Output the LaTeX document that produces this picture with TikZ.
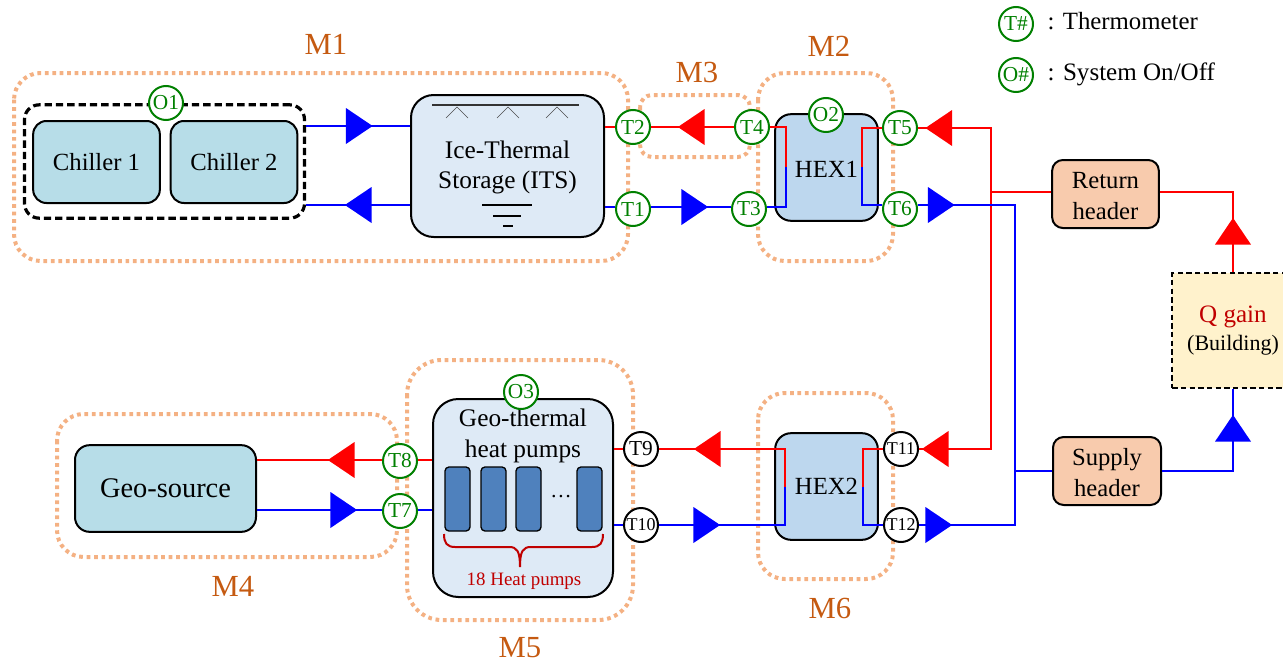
\documentclass[tikz,border=0pt]{standalone}
\usepackage{fontspec}
\setmainfont{Liberation Serif}
\usetikzlibrary{shapes.geometric, positioning, calc}
\definecolor{chillfill}{HTML}{B7DDE8}
\definecolor{itsfill}{HTML}{DEEAF6}
\definecolor{hexfill}{HTML}{BDD7EE}
\definecolor{headfill}{HTML}{F8CBAD}
\definecolor{hpfill}{HTML}{4F81BD}
\definecolor{qfill}{HTML}{FFF2CC}
\definecolor{modline}{HTML}{F4B183}
\definecolor{modtext}{HTML}{C55A11}
\definecolor{sensgreen}{HTML}{008000}
\definecolor{darkred}{HTML}{C00000}
\newcommand{\topgap}{\rule{0pt}{15.5pt}}

\begin{document}
\begin{tikzpicture}[x=0.75pt, y=-0.75pt,
                box/.style={draw, line width=1.5pt, inner sep=0pt, align=center, font=\fontsize{18.5}{22}\selectfont},
                module/.style={draw=modline, line width=3pt, dash pattern=on 2.8pt off 2.8pt, rounded corners=20pt},
                modlabel/.style={text=modtext, font=\fontsize{23}{26}\selectfont},
                thermo/.style={circle, draw=sensgreen, fill=white, line width=1.5pt, minimum size=25.5pt, inner sep=0pt, text=sensgreen, font=\fontsize{16}{18}\selectfont},
                plainsens/.style={thermo, draw=black, text=black},
                redpipe/.style={draw=red, line width=1.7pt},
                bluepipe/.style={draw=blue, line width=1.7pt},
                flowtip/.style={isosceles triangle, isosceles triangle apex angle=68, isosceles triangle stretches, minimum width=27pt, minimum height=20pt, inner sep=0pt},
                pump/.style={draw, line width=1pt, fill=hpfill, rounded corners=3pt, minimum width=18.75pt, minimum height=48pt, inner sep=0pt}]
    \useasboundingbox (0,0) rectangle (1283,664);

    % measurement groups
    \draw[module] (14,73) rectangle (628,261);
    \draw[module, rounded corners=9pt] (640,95) rectangle (750,157);
    \draw[module] (758,73) rectangle (893,261);
    \draw[module] (57,414) rectangle (397,557);
    \draw[module, rounded corners=26pt] (407,360) rectangle (633,620);
    \draw[module] (758,393) rectangle (893,579);
    \node[modlabel] (m1) at (326,44) {M1};
    \node[modlabel] (m2) at (829,46) {M2};
    \node[modlabel] (m3) at (697,72) {M3};
    \node[modlabel] (m4) at (233,586) {M4};
    \node[modlabel] (m5) at (520,648) {M5};
    \node[modlabel] (m6) at (830,608) {M6};

    % equipment
    \node[box, dash pattern=on 5.5pt off 3pt, line width=2.4pt, rounded corners=11pt, minimum width=210pt, minimum height=85pt] (chillgrp) at (164.5,161.5) {};
    \node[box, fill=chillfill, rounded corners=10pt, minimum width=95pt, minimum height=61.5pt] (ch1) at (96.5,162) {Chiller 1};
    \node[box, fill=chillfill, rounded corners=10pt, minimum width=95pt, minimum height=61.5pt] (ch2) at (234,162) {Chiller 2};
    \node[box, fill=itsfill, rounded corners=17pt, minimum width=144.75pt, minimum height=106.5pt, font=\fontsize{19}{22}\selectfont] (its) at (507.5,166) {\topgap Ice-Thermal\\[0.5pt]Storage (ITS)};
    \node[box, fill=hexfill, rounded corners=12pt, minimum width=77pt, minimum height=80pt] (hex1) at (826.5,167.5) {\topgap HEX1};
    \node[box, fill=hexfill, rounded corners=12pt, minimum width=77pt, minimum height=80pt] (hex2) at (826.5,486.5) {HEX2};
    \node[box, fill=chillfill, rounded corners=11pt, minimum width=135.75pt, minimum height=65pt, font=\fontsize{21.3}{24}\selectfont] (geo) at (165.5,488.5) {Geo-source};
    \node[box, fill=itsfill, rounded corners=19pt, minimum width=135pt, minimum height=148.5pt] (ghp) at (523,498) {};
    \node[font=\fontsize{19}{22}\selectfont, align=center] (ghptext) at (523,436) {Geo-thermal\\[1pt]heat pumps};
    \node[box, fill=headfill, rounded corners=8pt, minimum width=80pt, minimum height=51pt] (ret) at (1105.5,194) {\topgap Return\\[1pt]header};
    \node[box, fill=headfill, rounded corners=8pt, minimum width=81pt, minimum height=51pt] (sup) at (1107,471) {\topgap Supply\\[1pt]header};
    \node[box, dash pattern=on 4pt off 2.5pt, fill=qfill, minimum width=91pt, minimum height=86pt] (qgain) at (1233,330.5) {{\color{darkred}\fontsize{18.8}{22}\selectfont Q gain}\\[-1.5pt]\fontsize{16.5}{18}\selectfont (Building)};

    % heat pump bank
    \foreach \nm/\x in {hpa/457.5, hpb/493.5, hpc/528.5, hpd/589.5}
        \node[pump] (\nm) at (\x,499) {};
    \node[font=\fontsize{16}{18}\selectfont] (hpdots) at (561,497) {\dots};
    \draw[darkred, line width=1.5pt] (444,534) .. controls (444,543) and (447,547) .. (455,547) -- (509,547) .. controls (517,547) and (520,551) .. (520,567) .. controls (520,551) and (523,547) .. (531,547) -- (592,547) .. controls (600,547) and (603,543) .. (603,534);
    \node[text=darkred, font=\fontsize{14.2}{16}\selectfont] (hpnote) at (524,581) {18 Heat pumps};

    % ice tank marks
    \coordinate (wla) at (432,105);
    \coordinate (wlb) at (579,105);
    \draw[line width=1.2pt, black!80] (wla) -- (wlb);
    \foreach \x in {457, 508, 557}
        \draw[black!70, line width=0.5pt] (\x-11,118) -- (\x,107) -- (\x+11,118);
    \foreach \x/\w/\y in {507/25/205, 507/14/216, 508/5/226}
        \draw[line width=0.8pt] (\x-\w,\y) -- (\x+\w,\y);

    % sensors
    \foreach \nm/\lbl/\x/\y in {o1/O1/166/103, o2/O2/826/115, o3/O3/521/392, t1/T1/633/209, t2/T2/633/127, t3/T3/749/209, t4/T4/752/127, t5/T5/900/128, t6/T6/900/209, t7/T7/400/511, t8/T8/400/461, legt/T\#/1016/24, lego/O\#/1016/75}
        \node[thermo] (\nm) at (\x,\y) {\lbl};
    \node[plainsens] (t9) at (641,449) {T9};
    \node[plainsens, font=\fontsize{13.5}{14}\selectfont] (t10) at (641,525) {T10};
    \node[plainsens, font=\fontsize{13.5}{14}\selectfont] (t11) at (901,449) {T11};
    \node[plainsens, font=\fontsize{13.5}{14}\selectfont] (t12) at (901,525) {T12};
    \node[font=\fontsize{18.6}{20}\selectfont, anchor=west] (legtxt) at (1043,21) {: Thermometer};
    \node[font=\fontsize{18.8}{20}\selectfont, anchor=west] (legtxo) at (1043,74) {: System On/Off};

    % flow direction tips
    \foreach \nm/\col/\x/\y/\ang in {fa/blue/355.5/126/0, fb/blue/362/205/180, fc/red/695/127/180, fd/blue/691/207/0, fe/red/942.5/128/180, ff/blue/937.5/205/0, fg/red/1233/235/90, fh/blue/1233/432/90, fi/red/345/460/180, fj/blue/340/510/0, fk/red/711/449/180, fl/blue/703/525/0, fm/red/939/449/180, fn/blue/935/525/0}
        \node[flowtip, fill=\col, shape border rotate=\ang] (\nm) at (\x,\y) {};

    % pipe corners
    \coordinate (hxaltop) at (786,127);
    \coordinate (hxalmid) at (786,167);
    \coordinate (hxalbot) at (786,207);
    \coordinate (hxartop) at (862,128);
    \coordinate (hxarmid) at (862,167);
    \coordinate (hxarbot) at (862,205);
    \coordinate (hxbltop) at (785,449);
    \coordinate (hxblmid) at (785,487);
    \coordinate (hxblbot) at (785,525);
    \coordinate (hxbrtop) at (863,449);
    \coordinate (hxbrmid) at (863,487);
    \coordinate (hxbrbot) at (863,525);
    \coordinate (rettop) at (991,128);
    \coordinate (retjoin) at (991,192);
    \coordinate (retbot) at (991,449);
    \coordinate (suptop) at (1015,205);
    \coordinate (supjoin) at (1015,471);
    \coordinate (supbot) at (1015,525);

    % pipes
    \draw[bluepipe] (chillgrp.east |- fa) -- (its.west |- fa);
    \draw[bluepipe] (chillgrp.east |- fb) -- (its.west |- fb);
    \draw[redpipe] (its.east |- t2) -- (t2);
    \draw[bluepipe] (its.east |- fd) -- (t1.west |- fd);
    \draw[redpipe] (t2) -- (t4);
    \draw[bluepipe] (t1.east |- fd) -- (t3.west |- fd);
    \draw[redpipe] (t4) -- (hxaltop) -- (hxalmid);
    \draw[bluepipe] (hxalmid) -- (hxalbot) -- (t3.east |- hxalbot);
    \draw[redpipe] (t5) -- (hxartop) -- (hxarmid);
    \draw[bluepipe] (hxarmid) -- (hxarbot) -- (t6.west |- hxarbot);
    \draw[redpipe] (t5) -- (rettop) -- (retbot) -- (t11);
    \draw[bluepipe] (t6.east |- suptop) -- (suptop) -- (supbot) -- (t12);
    \draw[redpipe] (retjoin) -- (ret.west |- retjoin);
    \draw[redpipe] (ret.east |- retjoin) -| (qgain.north);
    \draw[bluepipe] (supjoin) -- (sup.west);
    \draw[bluepipe] (sup.east) -| (qgain.south);
    \draw[redpipe] (geo.east |- fi) -- (t8.west |- fi);
    \draw[redpipe] (t8.east |- fi) -- (ghp.west |- fi);
    \draw[bluepipe] (geo.east |- fj) -- (t7.west |- fj);
    \draw[bluepipe] (t7.east |- fj) -- (ghp.west |- fj);
    \draw[redpipe] (ghp.east |- t9) -- (t9);
    \draw[redpipe] (t9) -- (hxbltop) -- (hxblmid);
    \draw[bluepipe] (hxblmid) -- (hxblbot) -- (t10);
    \draw[bluepipe] (ghp.east |- t10) -- (t10);
    \draw[redpipe] (t11) -- (hxbrtop) -- (hxbrmid);
    \draw[bluepipe] (hxbrmid) -- (hxbrbot) -- (t12);
\end{tikzpicture}
\end{document}
